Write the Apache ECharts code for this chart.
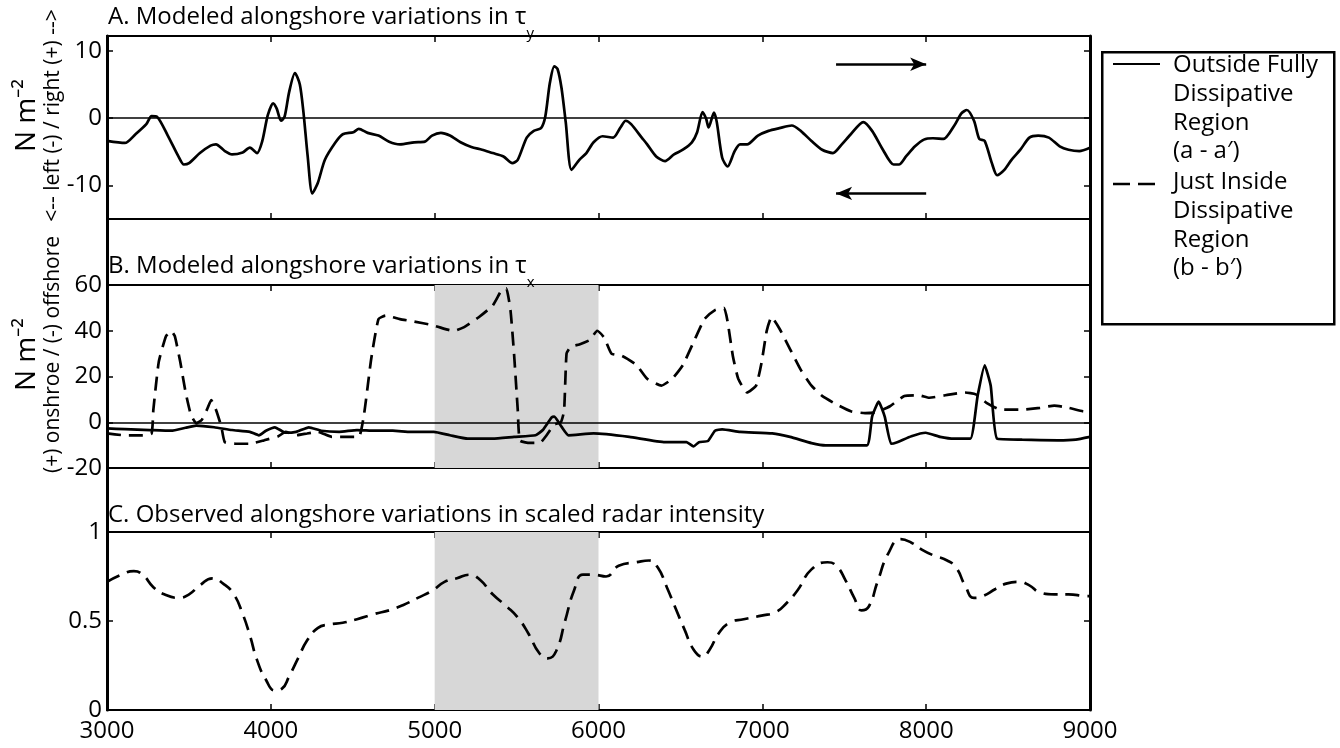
<!DOCTYPE html>
<html><head><meta charset="utf-8">
<script src="https://cdn.jsdelivr.net/npm/echarts@6/dist/echarts.min.js"></script>
<style>html,body{margin:0;padding:0;background:#fff}#c{width:1340px;height:748px}</style>
</head><body><div id="c"></div>
<script>
// ---------- DATA ----------
const xTicks = [3000, 4000, 5000, 6000, 7000, 8000, 9000];
const yTicksA = [-10, 0, 10];
const yTicksB = [-20, 0, 20, 40, 60];
const yTicksC = [0, 0.5, 1];
const shadeRange = [5000, 6000];

const panelTitles = ['A. Modeled alongshore variations in τ', 'B. Modeled alongshore variations in τ', 'C. Observed alongshore variations in scaled radar intensity'];
const panelSubs = ['y', 'x', ''];
const yNamesTop = ['N m⁻²', 'N m⁻²', ''];
const yNamesSub = ['<-- left (-) / right (+) -->', '(+) onshroe / (-) offshore', ''];
const legendLabels = ['Outside Fully\nDissipative\nRegion\n(a - a′)', 'Just Inside\nDissipative\nRegion\n(b - b′)'];
const seriesNames = ['Outside Fully Dissipative Region (a - a′)', 'Just Inside Dissipative Region (b - b′)'];

// arrows in panel A: [fromX, toX, y]
const arrowRight = [7450, 8000, 8.0];
const arrowLeft = [8000, 7450, -11.2];

// Panel A: tau_y outside
const aX = [3000,3109,3174,3240,3272,3305,3371,3436,3469,3501,3567,3632,3665,3719,3763,3828,3872,3916,3948,3981,4014,4036,4062,4084,4112,4147,4177,4199,4225,4253,4286,4330,4395,4439,4504,4537,4591,4657,4722,4788,4875,4940,4984,5038,5093,5158,5224,5289,5354,5420,5474,5507,5562,5605,5649,5675,5703,5730,5750,5774,5800,5835,5883,5926,5970,6025,6090,6134,6166,6199,6264,6297,6352,6406,6461,6515,6570,6602,6635,6657,6672,6705,6722,6755,6788,6831,6864,6907,6973,7038,7104,7180,7234,7300,7365,7431,7485,7540,7616,7670,7736,7801,7834,7877,7932,7986,8041,8106,8172,8215,8248,8292,8324,8357,8401,8433,8477,8521,8575,8630,8684,8749,8815,8869,8935,9000];
const aY = [-3.4,-3.7,-2.4,-0.9,0.3,0.2,-2.6,-5.7,-6.9,-6.7,-5.2,-4.1,-3.9,-4.9,-5.4,-5.1,-4.4,-5.2,-3.4,0.4,2.2,1.4,-0.4,0.2,3.9,6.7,5.0,0.9,-5.7,-11.2,-9.7,-6.2,-3.6,-2.4,-2.1,-1.6,-2.2,-2.6,-3.5,-3.9,-3.6,-3.5,-2.6,-2.2,-2.6,-3.6,-4.3,-4.7,-5.2,-5.7,-6.7,-6.2,-2.9,-1.9,-1.5,0.2,5.2,7.7,7.3,4.5,-0.6,-7.7,-6.2,-5.2,-3.6,-2.7,-2.9,-1.4,-0.4,-0.9,-2.9,-3.9,-5.7,-6.4,-5.4,-4.7,-3.6,-2.1,0.9,-0.1,-1.4,0.8,-0.6,-5.9,-7.2,-4.9,-3.9,-3.9,-2.6,-1.9,-1.5,-1.1,-1.9,-3.4,-4.7,-5.2,-3.9,-2.4,-0.6,-1.9,-4.7,-6.9,-6.9,-5.7,-4.2,-3.2,-3.0,-3.1,-1.1,0.7,1.2,-0.4,-3.1,-3.4,-6.7,-8.5,-7.7,-6.2,-4.7,-2.9,-2.6,-2.9,-4.2,-4.7,-4.9,-4.4];

// Panel B: tau_x outside (solid)
const bSolidX = [3000,3109,3262,3392,3480,3545,3654,3763,3872,3927,3970,4025,4090,4155,4232,4308,4417,4526,4635,4744,4853,4995,5093,5202,5354,5485,5616,5660,5714,5730,5774,5817,5970,6188,6406,6537,6580,6613,6668,6711,6755,6864,7060,7169,7300,7387,7638,7670,7710,7747,7786,7823,7910,7997,8085,8172,8270,8314,8357,8394,8433,8586,8804,8913,9000];
const bSolidY = [-2.7,-3.0,-3.4,-3.7,-2.4,-1.5,-2.2,-3.4,-4.2,-5.7,-3.7,-2.2,-4.6,-4.2,-2.2,-3.7,-4.2,-3.4,-3.7,-3.7,-4.2,-4.2,-5.7,-7.2,-7.2,-6.4,-5.7,-3.4,2.1,2.5,-1.9,-5.7,-4.9,-6.4,-8.7,-8.7,-10.6,-8.7,-8.2,-3.7,-3.1,-4.2,-4.9,-6.4,-9.1,-10.1,-10.1,2.5,9.0,2.5,-9.4,-8.7,-6.1,-4.6,-6.4,-7.2,-7.2,11.5,24.9,16.0,-7.2,-7.6,-7.9,-7.6,-6.4];

// Panel B: tau_x just inside (dashed)
const bDashX = [3000,3109,3218,3272,3283,3316,3360,3392,3414,3447,3480,3512,3545,3578,3610,3636,3665,3698,3719,3785,3872,3959,4046,4090,4155,4221,4286,4373,4461,4537,4570,4613,4657,4700,4788,4875,4984,5071,5115,5180,5267,5354,5409,5437,5463,5485,5507,5520,5580,5643,5680,5730,5770,5790,5805,5830,5883,5948,5992,6035,6079,6144,6232,6297,6384,6450,6515,6580,6646,6711,6766,6788,6820,6853,6907,6962,6995,7027,7056,7104,7169,7234,7300,7365,7452,7540,7627,7692,7779,7867,7954,8019,8150,8237,8303,8368,8455,8586,8695,8782,8869,8956,9000];
const bDashY = [-4.9,-5.7,-5.7,-4.9,5.5,26.4,37.6,39.9,37.6,26.4,13.0,3.3,-0.4,1.0,5.5,9.7,5.5,-1.9,-8.7,-9.4,-9.4,-7.9,-6.1,-4.2,-5.7,-4.9,-4.2,-6.4,-6.4,-6.4,4.0,27.9,45.1,46.6,45.1,44.0,42.5,40.6,39.9,41.6,45.8,51.0,57.8,58.5,48.8,29.4,5.5,-8.0,-9.0,-9.0,-6.0,-1.0,0.0,5.0,30.0,33.0,34.0,36.0,40.0,37.0,30.0,29.0,25.0,19.0,16.0,19.0,25.0,35.0,45.0,49.0,50.0,44.0,29.0,19.0,13.0,16.0,26.0,40.0,46.0,41.0,32.0,23.0,16.0,11.5,7.8,4.8,4.0,4.3,7.0,11.5,11.8,10.7,12.2,13.0,12.2,8.5,5.5,5.5,6.3,7.3,6.3,4.8,4.5];

// Panel C: scaled radar intensity (dashed)
const cX = [3000,3087,3164,3218,3283,3349,3436,3501,3567,3643,3709,3774,3828,3872,3916,3970,4025,4068,4112,4166,4221,4286,4352,4439,4526,4635,4722,4809,4897,4984,5060,5136,5213,5278,5354,5442,5507,5572,5638,5690,5741,5796,5850,5905,5970,6046,6123,6232,6308,6362,6417,6471,6526,6580,6635,6679,6733,6798,6886,6995,7082,7147,7213,7300,7398,7452,7507,7561,7605,7649,7703,7769,7845,7910,7976,8041,8128,8183,8237,8292,8346,8423,8488,8564,8630,8695,8782,8869,8978,9000];
const cY = [0.72,0.76,0.78,0.76,0.69,0.65,0.63,0.65,0.70,0.74,0.71,0.65,0.54,0.42,0.28,0.17,0.11,0.12,0.19,0.29,0.39,0.46,0.48,0.49,0.51,0.54,0.56,0.59,0.63,0.67,0.72,0.74,0.76,0.73,0.65,0.58,0.52,0.43,0.32,0.29,0.33,0.50,0.67,0.76,0.76,0.75,0.81,0.83,0.84,0.80,0.69,0.57,0.45,0.34,0.30,0.34,0.43,0.49,0.51,0.53,0.55,0.60,0.67,0.79,0.83,0.81,0.73,0.63,0.56,0.58,0.72,0.88,0.96,0.94,0.90,0.87,0.84,0.80,0.70,0.63,0.64,0.68,0.71,0.72,0.70,0.66,0.65,0.65,0.64,0.64];

// ---------- BUILD ----------
const FONT = 'Open Sans';
const zip = (xs, ys) => xs.map((x, i) => [x, ys[i]]);
const L = 107, R = 250;
const grids = [
  {left: L, right: R, top: 36, height: 183},
  {left: L, right: R, top: 285, height: 183},
  {left: L, right: R, top: 532, height: 178},
  {left: L, right: R, top: 36, height: 674}
];
const yRanges = [[-15, 12.2, yTicksA], [-20, 60, yTicksB], [0, 1, yTicksC]];
const nameShift = [24, 44, 0];

const xAxes = [], yAxes = [];
for (let g = 0; g < 3; g++) {
  ['bottom', 'top'].forEach(pos => {
    xAxes.push({
      type: 'value', gridIndex: g, position: pos, min: xTicks[0], max: xTicks[xTicks.length - 1],
      axisLine: {show: true, onZero: false, lineStyle: {color: '#000', width: 2}},
      axisTick: {show: true, inside: true, length: 6, customValues: xTicks, lineStyle: {color: '#000', width: 1.5}},
      axisLabel: {show: g === 2 && pos === 'bottom', customValues: xTicks, formatter: v => String(v),
        color: '#000', fontFamily: FONT, fontSize: 24, margin: 9},
      splitLine: {show: false}
    });
  });
  const [mn, mx, tk] = yRanges[g];
  ['left', 'right'].forEach(pos => {
    const ax = {
      type: 'value', gridIndex: g, position: pos, min: mn, max: mx,
      axisLine: {show: true, onZero: false, lineStyle: {color: '#000', width: 2}},
      axisTick: {show: true, inside: true, length: 6, customValues: tk, lineStyle: {color: '#000', width: 1.5}},
      axisLabel: {show: pos === 'left', customValues: tk, formatter: v => String(v),
        color: '#000', fontFamily: FONT, fontSize: 24, margin: 5},
      splitLine: {show: false}
    };
    if (pos === 'left' && yNamesTop[g]) {
      ax.name = '{a|' + yNamesTop[g] + '}\n{b|' + yNamesSub[g] + '}';
      ax.nameLocation = 'middle';
      ax.nameGap = 42;
      ax.nameMoveOverlap = false;
      ax.nameTextStyle = {padding: [0, 0, 0, nameShift[g]], rich: {
        a: {fontSize: 28, fontFamily: FONT, color: '#000', lineHeight: 28},
        b: {fontSize: 21, fontFamily: FONT, color: '#000', lineHeight: 24}
      }};
    }
    yAxes.push(ax);
  });
}
// outer frame
xAxes.push({type: 'value', gridIndex: 3, min: 0, max: 1, show: false});
['left', 'right'].forEach(pos => yAxes.push({
  type: 'value', gridIndex: 3, position: pos, min: 0, max: 1,
  axisLine: {show: true, onZero: false, lineStyle: {color: '#000', width: 3}},
  axisTick: {show: false}, axisLabel: {show: false}, splitLine: {show: false}
}));

const solid = {color: '#000', width: 2.7, type: 'solid'};
const dashed = {color: '#000', width: 2.7, type: [14, 8]};
const zeroLine = {yAxis: 0, lineStyle: {color: '#000', width: 1.5, type: 'solid'}};
const shade = {silent: true, itemStyle: {color: '#d7d7d7'}, data: [[{xAxis: shadeRange[0]}, {xAxis: shadeRange[1]}]]};

const series = [
  {
    name: seriesNames[0], type: 'line', xAxisIndex: 0, yAxisIndex: 0, data: zip(aX, aY),
    showSymbol: false, smooth: 0.25, lineStyle: solid, z: 3, silent: true,
    markLine: {
      silent: true, symbol: ['none', 'none'], symbolSize: [10, 16], label: {show: false},
      lineStyle: {color: '#000', width: 2.5, type: 'solid'},
      data: [
        zeroLine,
        [{coord: [arrowRight[0], arrowRight[2]]}, {coord: [arrowRight[1], arrowRight[2]], symbol: 'arrow'}],
        [{coord: [arrowLeft[0], arrowLeft[2]]}, {coord: [arrowLeft[1], arrowLeft[2]], symbol: 'arrow'}]
      ]
    }
  },
  {
    name: seriesNames[0], type: 'line', xAxisIndex: 2, yAxisIndex: 2, data: zip(bSolidX, bSolidY),
    showSymbol: false, smooth: 0.15, lineStyle: solid, z: 3, silent: true,
    markArea: shade,
    markLine: {silent: true, symbol: ['none', 'none'], label: {show: false}, data: [zeroLine]}
  },
  {
    name: seriesNames[1], type: 'line', xAxisIndex: 2, yAxisIndex: 2, data: zip(bDashX, bDashY),
    showSymbol: false, smooth: 0.15, lineStyle: dashed, z: 3, silent: true
  },
  {
    name: seriesNames[1], type: 'line', xAxisIndex: 4, yAxisIndex: 4, data: zip(cX, cY),
    showSymbol: false, smooth: 0.5, lineStyle: dashed, z: 3, silent: true,
    markArea: shade
  }
];

const titleTops = [5, 254, 503];
const titles = panelTitles.map((t, i) => ({
  text: '{t|' + t + '}' + (panelSubs[i] ? '{s|' + panelSubs[i] + '}' : ''),
  left: 108, top: titleTops[i], padding: 0,
  textStyle: {rich: {
    t: {fontSize: 24, fontWeight: 'normal', fontFamily: FONT, color: '#000', lineHeight: 30, verticalAlign: 'top'},
    s: {fontSize: 15, fontWeight: 'normal', fontFamily: FONT, color: '#000', lineHeight: 16, verticalAlign: 'top', padding: [21, 0, 0, 0]}
  }}
}));

const legendGraphic = [
  {type: 'rect', left: 1101, top: 51, shape: {width: 232, height: 272}, style: {fill: '#fff', stroke: '#000', lineWidth: 2.5}},
  {type: 'line', shape: {x1: 1113, y1: 64, x2: 1160, y2: 64}, style: {stroke: '#000', lineWidth: 2}},
  {type: 'line', shape: {x1: 1113, y1: 184, x2: 1158, y2: 184}, style: {stroke: '#000', lineWidth: 2.5, lineDash: [17, 8]}},
  {type: 'text', left: 1173, top: 51, style: {text: legendLabels[0], font: '24px "' + FONT + '"', lineHeight: 28.7, fill: '#000'}},
  {type: 'text', left: 1173, top: 168, style: {text: legendLabels[1], font: '24px "' + FONT + '"', lineHeight: 28.7, fill: '#000'}}
];

const chart = echarts.init(document.getElementById('c'), null, {renderer: 'canvas'});
chart.setOption({
  animation: false,
  backgroundColor: '#fff',
  title: titles,
  grid: grids,
  xAxis: xAxes,
  yAxis: yAxes,
  series: series,
  graphic: legendGraphic
});
</script>
</body></html>
